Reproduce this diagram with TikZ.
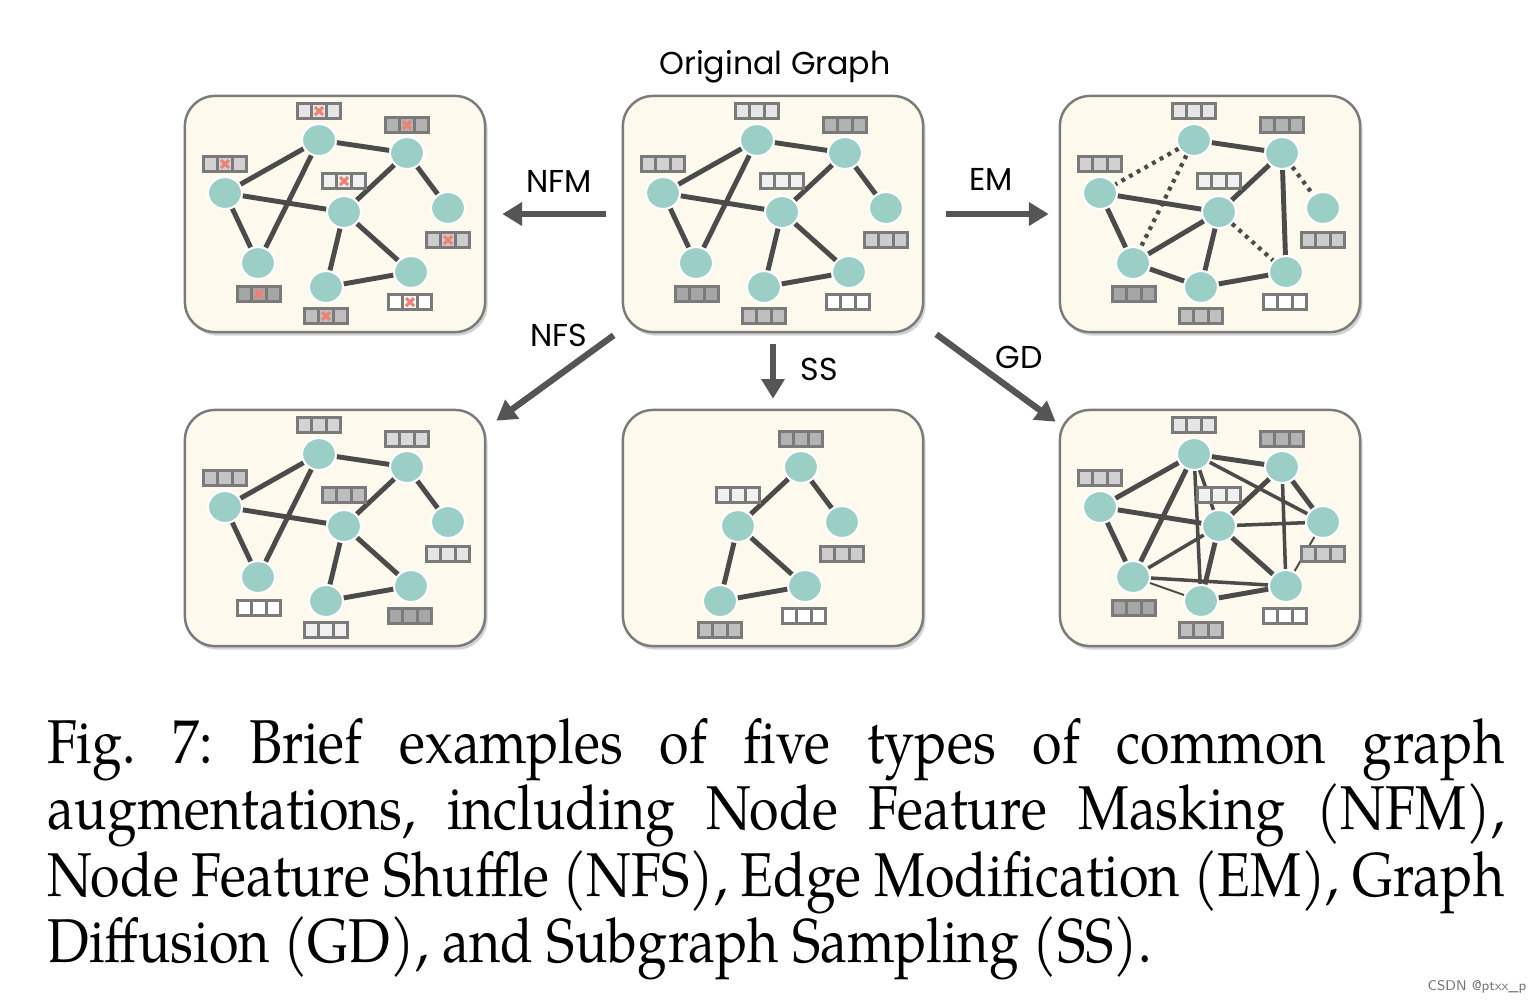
\documentclass[tikz,border=0pt]{standalone}
\usepackage{fontspec}
\newfontfamily\handfont{Poppins}
\newfontfamily\capfont[FakeStretch=0.87]{TeX Gyre Pagella}
\usetikzlibrary{arrows.meta, positioning, calc, shapes.geometric, shadows}

\definecolor{panelfill}{HTML}{FDF9EC}
\definecolor{panelline}{HTML}{7B7B7B}
\definecolor{nodeteal}{HTML}{9BCFC6}
\definecolor{edgegray}{HTML}{4B4B4B}
\definecolor{arrowgray}{HTML}{555555}
\definecolor{boxline}{HTML}{7A7A7A}
\definecolor{maskred}{HTML}{EE8272}

\tikzset{
	panel/.style = {draw=panelline, line width=0.7pt, fill=panelfill, rounded corners=0.3cm,
		minimum width=3cm, minimum height=2.36cm,
		drop shadow={shadow xshift=0.7pt, shadow yshift=-1pt, opacity=0.35}},
	gnode/.style = {ellipse, fill=nodeteal, draw=white, line width=0.6pt,
		minimum width=0.34cm, minimum height=0.32cm, inner sep=0pt},
	gedge/.style = {draw=edgegray, line width=1.4pt},
	midedge/.style = {draw=edgegray, line width=1.0pt},
	thinedge/.style = {draw=edgegray, line width=0.55pt},
	cutedge/.style = {draw=edgegray, line width=1.2pt, dash pattern=on 1.1pt off 1.4pt},
	featbox/.style = {draw=boxline, line width=0.6pt, minimum width=0.43cm, minimum height=0.15cm, inner sep=0pt},
	featline/.style = {draw=boxline, line width=0.6pt},
	maskmark/.style = {draw=maskred, line width=0.9pt},
	flow/.style = {draw=arrowgray, line width=1.8pt, -{Triangle[length=5.6pt, width=6.4pt]}},
	lbl/.style = {font=\handfont\fontsize{9}{10}\selectfont, inner sep=0pt}
}

% one feature vector of three cells
\newcommand{\featvec}[3]{%
	\node[featbox, fill=#3] (#1) at (#2) {};
	\draw[featline] ($(#1.north west)!1/3!(#1.north east)$) -- ($(#1.south west)!1/3!(#1.south east)$)
		($(#1.north west)!2/3!(#1.north east)$) -- ($(#1.south west)!2/3!(#1.south east)$);
}
\newcommand{\maskx}[1]{%
	\draw[maskmark] ([shift={(-4,-4)}]#1.center) -- ([shift={(4,4)}]#1.center)
		([shift={(-4,4)}]#1.center) -- ([shift={(4,-4)}]#1.center);
}
\newcommand{\basenodes}[1]{%
	\node[gnode] (#1A) at (757,140) {};
	\node[gnode] (#1B) at (845,153) {};
	\node[gnode] (#1C) at (663,193) {};
	\node[gnode] (#1D) at (782,212) {};
	\node[gnode] (#1E) at (886,208) {};
	\node[gnode] (#1F) at (696,263) {};
	\node[gnode] (#1G) at (764,287) {};
	\node[gnode] (#1H) at (849,272) {};
}
\newcommand{\baseedges}[1]{%
	\draw[gedge] (#1A) -- (#1B) (#1A) -- (#1C) (#1A) -- (#1F) (#1C) -- (#1D) (#1C) -- (#1F)
		(#1B) -- (#1D) (#1B) -- (#1E) (#1D) -- (#1G) (#1D) -- (#1H) (#1G) -- (#1H);
}
\newcommand{\featrow}[9]{%
	\featvec{#1a}{757,111}{#2}
	\featvec{#1b}{845,125}{#3}
	\featvec{#1c}{663,164}{#4}
	\featvec{#1d}{782,181}{#5}
	\featvec{#1e}{886,240}{#6}
	\featvec{#1f}{697,294}{#7}
	\featvec{#1g}{764,316}{#8}
	\featvec{#1h}{848,302}{#9}
}

\begin{document}
\begin{tikzpicture}[x=0.01cm, y=-0.01cm]
	\useasboundingbox (0,0) rectangle (1536,1002);
	
	\pgfmathsetmacro{\dxL}{-438}
	\pgfmathsetmacro{\dxR}{437}
	\pgfmathsetmacro{\dyB}{314}
	
	% original graph
	\node[panel] (orig) at (773,214) {};
	\basenodes{o}
	\baseedges{o}
	\featrow{o}{black!10}{black!30}{black!18}{black!6}{black!20}{black!35}{black!25}{white}
	\node[lbl] (title) at (775,67) {Original Graph};
	
	% node feature masking
	\begin{scope}[shift={(\dxL,0)}]
		\node[panel] (nfm) at (773,214) {};
		\basenodes{m}
		\baseedges{m}
		\featrow{m}{black!10}{black!30}{black!18}{black!6}{black!20}{black!35}{black!25}{white}
		\maskx{ma}\maskx{mb}\maskx{mc}\maskx{md}\maskx{me}\maskx{mf}\maskx{mg}\maskx{mh}
	\end{scope}
	
	% edge modification
	\begin{scope}[shift={(\dxR,0)}]
		\node[panel] (em) at (773,214) {};
		\basenodes{e}
		\draw[gedge] (eA) -- (eB) (eC) -- (eD) (eC) -- (eF) (eB) -- (eD) (eB) -- (eH)
			(eD) -- (eF) (eD) -- (eG) (eF) -- (eG) (eG) -- (eH);
		\draw[cutedge] (eA) -- (eC) (eA) -- (eF) (eB) -- (eE) (eD) -- (eH);
		\featrow{e}{black!10}{black!30}{black!18}{black!6}{black!20}{black!35}{black!25}{white}
	\end{scope}
	
	% node feature shuffle
	\begin{scope}[shift={(\dxL,\dyB)}]
		\node[panel] (nfs) at (773,214) {};
		\basenodes{s}
		\baseedges{s}
		\featrow{s}{black!17}{black!15}{black!23}{black!26}{black!10}{white}{black!6}{black!35}
	\end{scope}
	
	% subgraph sampling
	\begin{scope}[shift={(0,\dyB)}]
		\node[panel] (ss) at (773,214) {};
		\node[gnode] (gB) at (801,153) {};
		\node[gnode] (gD) at (738,212) {};
		\node[gnode] (gE) at (842,208) {};
		\node[gnode] (gG) at (720,287) {};
		\node[gnode] (gH) at (805,272) {};
		\draw[gedge] (gB) -- (gD) (gB) -- (gE) (gD) -- (gG) (gD) -- (gH) (gG) -- (gH);
		\featvec{gb}{801,125}{black!30}
		\featvec{gd}{738,181}{black!6}
		\featvec{ge}{842,240}{black!20}
		\featvec{gg}{720,316}{black!25}
		\featvec{gh}{804,302}{white}
	\end{scope}
	
	% graph diffusion
	\begin{scope}[shift={(\dxR,\dyB)}]
		\node[panel] (gd) at (773,214) {};
		\basenodes{d}
		\draw[gedge] (dA) -- (dB) (dA) -- (dC) (dA) -- (dF) (dB) -- (dD) (dB) -- (dE) (dC) -- (dD)
			(dC) -- (dF) (dD) -- (dG) (dD) -- (dH) (dG) -- (dH);
		\draw[midedge] (dA) -- (dD) (dA) -- (dE) (dA) -- (dG) (dB) -- (dH) (dD) -- (dE)
			(dD) -- (dF) (dF) -- (dH);
		\draw[thinedge] (dE) -- (dH) (dF) -- (dG);
		\featrow{d}{black!10}{black!30}{black!18}{black!6}{black!20}{black!35}{black!25}{white}
	\end{scope}
	
	% augmentations
	\draw[flow, shorten <=0.16cm, shorten >=0.16cm] (orig.west) -- (nfm.east);
	\draw[flow, shorten <=0.22cm, shorten >=0.1cm] (orig.east) -- (em.west);
	\draw[flow, shorten <=0.11cm, shorten >=0.1cm] (orig.south) -- (ss.north);
	\draw[flow] ([shift={(-8,2)}]orig.south west) -- ([shift={(10,12)}]nfs.north east);
	\draw[flow] ([shift={(12,1)}]orig.south east) -- ([shift={(-3,13)}]gd.north west);
	\node[lbl] (nfmlab) at (559,181) {NFM};
	\node[lbl] (emlab) at (991,179) {EM};
	\node[lbl] (nfslab) at (559,335) {NFS};
	\node[lbl] (sslab) at (819,369) {SS};
	\node[lbl] (gdlab) at (1019,357) {GD};
	
	\node[anchor=north west, inner sep=0pt, text width=14.56cm, align=justify,
		font=\capfont\fontsize{17.6}{18.8}\selectfont\frenchspacing] (caption) at (47,718)
		{Fig. 7: Brief examples of five types of common graph\linebreak
		augmentations, including Node Feature Masking (NFM),\linebreak
		Node Feature Shuffle (NFS), Edge Modification (EM), Graph\linebreak
		Diffusion (GD), and Subgraph Sampling (SS).};
	\node[font=\sffamily\fontsize{4}{5}\selectfont, text=black!55, inner sep=0pt, anchor=east] (mark) at (1527,987) {CSDN @ptxx\_p};
\end{tikzpicture}
\end{document}
